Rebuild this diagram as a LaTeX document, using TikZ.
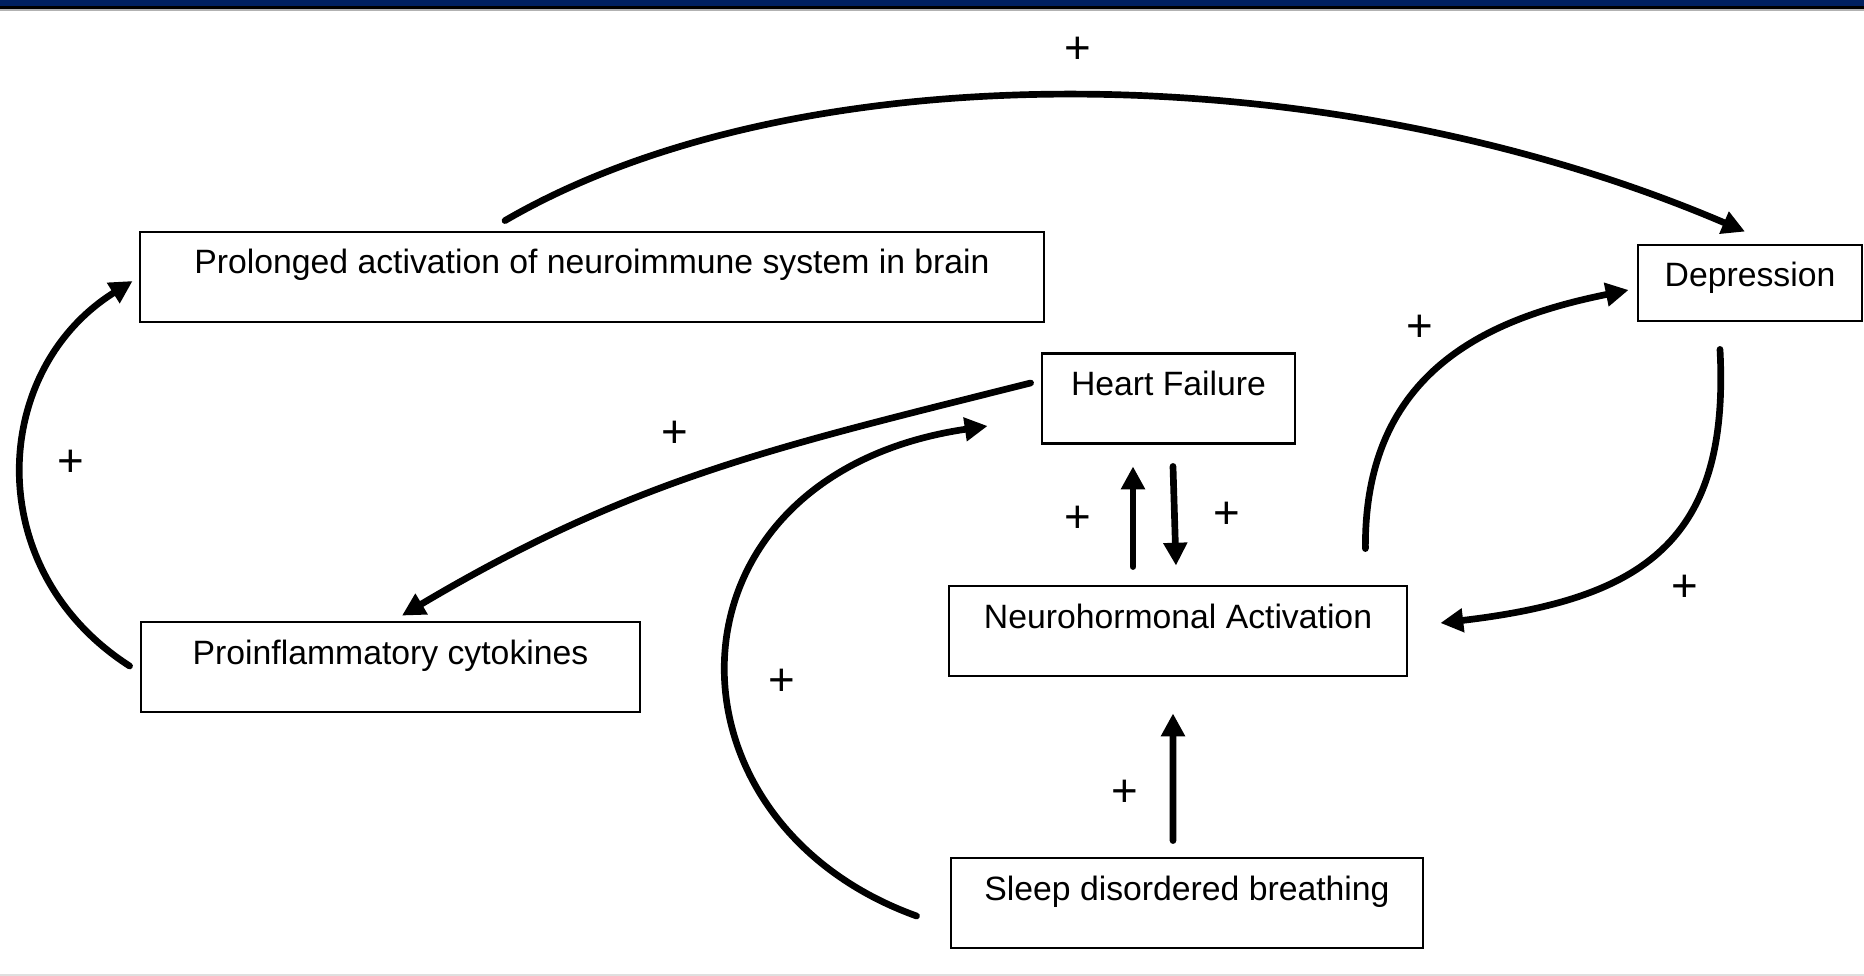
\documentclass[tikz,border=0pt]{standalone}
\usepackage{fontspec}
\setmainfont{Liberation Sans}
\usetikzlibrary{arrows.meta}
\definecolor{bandNavy}{RGB}{0,32,96}

\begin{document}
\begin{tikzpicture}[
    box/.style={
        rectangle, draw=black, line width=0.8pt,
        inner xsep=0pt, inner ysep=0pt,
        text height=0.42cm, text depth=0.48cm,
        font=\fontsize{9.6}{11}\selectfont
    },
    shortBox/.style={box, text depth=0.34cm},
    link/.style={line width=1.9pt, line cap=round, -{Triangle[length=6.5pt,width=6.5pt]}},
    sign/.style={inner sep=0pt, font=\fontsize{13}{13}\selectfont}
]
    \useasboundingbox (0,0) rectangle (18.64,-9.76);

    % --- header band and bottom rule ---
    \fill[bandNavy] (0,0) rectangle (18.64,-0.06);
    \fill[black] (0,-0.06) rectangle (18.64,-0.09);
    \fill[gray!60] (0,-0.09) rectangle (18.64,-0.11);
    \fill[gray!25] (0,-9.74) rectangle (18.64,-9.76);

    % --- boxes ---
    \node[box, minimum width=9.04cm] (prolonged) at (5.92,-2.77) {Prolonged activation of neuroimmune system in brain};
    \node[shortBox, minimum width=2.24cm] (depression) at (17.50,-2.83) {Depression};
    \node[box, minimum width=2.53cm] (heart) at (11.685,-3.985) {Heart Failure};
    \node[box, minimum width=4.58cm] (neuro) at (11.78,-6.31) {Neurohormonal Activation};
    \node[box, minimum width=4.99cm] (cytokines) at (3.905,-6.67) {Proinflammatory cytokines};
    \node[box, minimum width=4.72cm] (sleep) at (11.87,-9.03) {Sleep disordered breathing};

    % --- curved links ---
    \draw[link] ([xshift=-0.87cm,yshift=0.10cm]prolonged.north)
        .. controls (8.00,-0.49) and (13.30,-0.54) .. ([xshift=-0.05cm,yshift=0.12cm]depression.north);
    \draw[link] ([xshift=-0.10cm,yshift=0.155cm]heart.west)
        .. controls (7.72,-4.48) and (6.32,-4.79) .. ([xshift=0.115cm,yshift=0.05cm]cytokines.north);
    \draw[link] ([xshift=-0.33cm,yshift=-0.13cm]sleep.west)
        .. controls (6.50,-8.20) and (6.55,-4.75) .. ([xshift=-0.53cm,yshift=-0.275cm]heart.west);
    \draw[link] ([xshift=-0.10cm,yshift=0.01cm]cytokines.west)
        .. controls (-0.20,-5.70) and (-0.10,-3.70) .. ([xshift=-0.06cm,yshift=-0.04cm]prolonged.west);
    \draw[link] ([xshift=-0.43cm,yshift=0.36cm]neuro.north east)
        .. controls (13.64,-3.70) and (14.90,-3.18) .. ([xshift=-0.08cm,yshift=-0.07cm]depression.west);
    \draw[link] ([xshift=-0.30cm,yshift=-0.27cm]depression.south)
        .. controls (17.30,-5.40) and (16.45,-5.99) .. ([xshift=0.32cm,yshift=0.08cm]neuro.east);

    % --- straight links ---
    \draw[link] ([xshift=-0.45cm,yshift=0.18cm]neuro.north) -- ([xshift=-0.355cm,yshift=-0.215cm]heart.south);
    \draw[link] ([xshift=0.045cm,yshift=-0.215cm]heart.south) -- ([xshift=-0.02cm,yshift=0.19cm]neuro.north);
    \draw[link] ([xshift=-0.14cm,yshift=0.16cm]sleep.north) -- ([xshift=-0.05cm,yshift=-0.36cm]neuro.south);

    % --- signs ---
    \node[sign] (plusTop) at (10.78,-0.50) {+};
    \node[sign] (plusHeartCyto) at (6.75,-4.34) {+};
    \node[sign] (plusSleepHeart) at (7.82,-6.82) {+};
    \node[sign] (plusCytoBrain) at (0.71,-4.63) {+};
    \node[sign] (plusNeuroUp) at (10.78,-5.19) {+};
    \node[sign] (plusNeuroDown) at (12.27,-5.15) {+};
    \node[sign] (plusSleepNeuro) at (11.25,-7.93) {+};
    \node[sign] (plusNeuroDep) at (14.20,-3.28) {+};
    \node[sign] (plusDepNeuro) at (16.85,-5.88) {+};
\end{tikzpicture}
\end{document}
